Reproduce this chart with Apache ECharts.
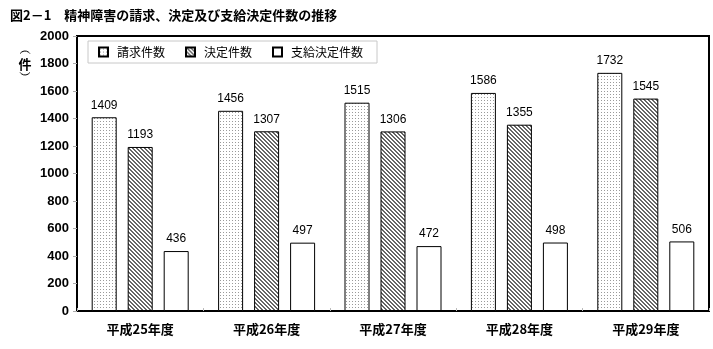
<!DOCTYPE html>
<html><head><meta charset="utf-8">
<script src="https://cdn.jsdelivr.net/npm/echarts@6/dist/echarts.min.js"></script>
<style>html,body{margin:0;padding:0;background:#fff;}#c{width:713px;height:349px;}</style>
</head><body><div id="c"></div>
<script>
const categories = ['平成25年度','平成26年度','平成27年度','平成28年度','平成29年度'];
const seriesNames = ['請求件数','決定件数','支給決定件数'];
const claims = [1409, 1456, 1515, 1586, 1732];
const decisions = [1193, 1307, 1306, 1355, 1545];
const approvals = [436, 497, 472, 498, 506];
const yTicks = [0, 200, 400, 600, 800, 1000, 1200, 1400, 1600, 1800, 2000];

function makeDots() {
  const c = document.createElement('canvas'); c.width = 3; c.height = 3;
  const g = c.getContext('2d');
  g.fillStyle = '#fff'; g.fillRect(0,0,3,3);
  g.fillStyle = '#9a9a9a'; g.fillRect(1,1,1,1);
  return c;
}
function makeHatch() {
  const c = document.createElement('canvas'); c.width = 4; c.height = 4;
  const g = c.getContext('2d');
  g.fillStyle = '#fff'; g.fillRect(0,0,4,4);
  g.fillStyle = '#666';
  for (let i = 0; i < 4; i++) { g.fillRect(i, i, 1, 1); g.fillRect((i+1)%4, i, 1, 1); }
  return c;
}
const dotPattern = {image: makeDots(), repeat: 'repeat'};
const hatchPattern = {image: makeHatch(), repeat: 'repeat'};

const chart = echarts.init(document.getElementById('c'), null, {renderer: 'canvas'});
const labelStyle = {show: true, position: 'top', distance: 6, color: '#000', fontSize: 12, fontFamily: 'Liberation Sans, Arial, sans-serif'};
function bar(name, data, fill) {
  return {
    name: name, type: 'bar', data: data,
    barWidth: 25, barGap: '44%',
    itemStyle: {color: fill, borderColor: '#000', borderWidth: 1},
    label: labelStyle
  };
}
const jp = 'Noto Sans CJK JP';
chart.setOption({
  animation: false,
  title: {
    text: '図2－1　精神障害の請求、決定及び支給決定件数の推移',
    left: 5, top: 4,
    textStyle: {fontSize: 13, fontWeight: 'bold', color: '#000', fontFamily: jp}
  },
  legend: {
    data: seriesNames,
    icon: 'rect',
    left: 88, top: 41,
    padding: [5, 14, 5, 10],
    itemWidth: 9, itemHeight: 9, itemGap: 20,
    borderColor: '#c8c8c8', borderWidth: 1, backgroundColor: '#fff',
    textStyle: {fontSize: 12, color: '#000', fontFamily: jp, padding: [0, 0, 0, 4]}
  },
  graphic: [
    {type: 'arc', shape: {cx: 25, cy: 57, r: 6, startAngle: Math.PI * 1.2, endAngle: Math.PI * 1.8}, style: {stroke: '#000', lineWidth: 1, fill: null}},
    {type: 'text', x: 25, y: 64, style: {text: '件', fontSize: 13, fontWeight: 'bold', fill: '#000', fontFamily: jp, align: 'center', verticalAlign: 'middle'}},
    {type: 'arc', shape: {cx: 25, cy: 69, r: 6, startAngle: Math.PI * 0.2, endAngle: Math.PI * 0.8}, style: {stroke: '#000', lineWidth: 1, fill: null}}
  ],
  grid: {left: 77, right: 4, top: 36, bottom: 38, show: true, borderColor: '#000', borderWidth: 2, backgroundColor: 'transparent'},
  xAxis: {
    type: 'category', data: categories,
    axisLine: {lineStyle: {color: '#000', width: 2}},
    axisTick: {show: true, inside: true, length: 3, lineStyle: {color: '#bbb'}},
    axisLabel: {color: '#000', fontSize: 13, fontWeight: 'bold', margin: 12, fontFamily: jp}
  },
  yAxis: {
    type: 'value', min: yTicks[0], max: yTicks[yTicks.length-1], interval: 200,
    axisLine: {show: true, lineStyle: {color: '#000', width: 2}},
    axisTick: {show: true, length: 4, lineStyle: {color: '#aaa'}},
    splitLine: {show: false},
    axisLabel: {color: '#000', fontSize: 13, fontWeight: 'bold', margin: 8, fontFamily: 'Liberation Sans, Arial, sans-serif', formatter: v => String(v)}
  },
  series: [
    bar(seriesNames[0], claims, dotPattern),
    bar(seriesNames[1], decisions, hatchPattern),
    bar(seriesNames[2], approvals, '#fff')
  ]
});
</script></body></html>
